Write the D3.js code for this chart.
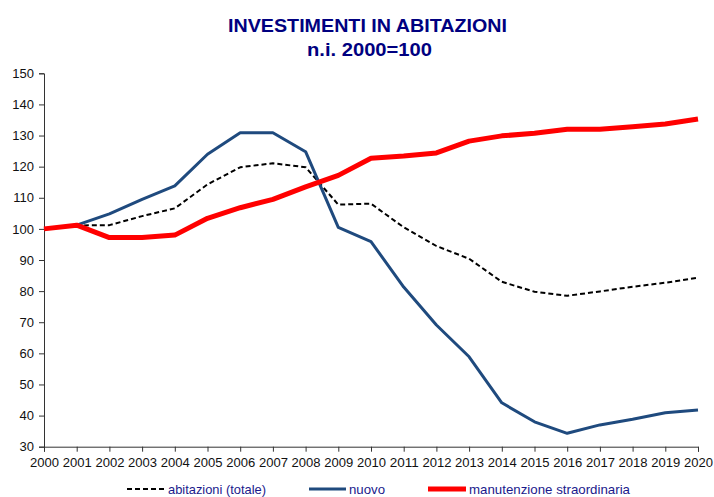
<!DOCTYPE html>
<html>
<head>
<meta charset="utf-8">
<script src="https://cdn.jsdelivr.net/npm/d3@7"></script>
<style>
  body { margin: 0; background: #fff; }
  text { font-family: "Liberation Sans", Arial, sans-serif; }
</style>
</head>
<body>
<div id="chart"></div>
<script>
// Data
const years = d3.range(2000, 2021);
const abitazioni = [100, 101.1, 101.2, 104.1, 106.6, 114.3, 119.8, 121.1, 119.8, 107.8, 108.1, 100.5, 94.5, 90.4, 83.0, 79.8, 78.5, 79.9, 81.4, 82.7, 84.3];
const nuovo = [100, 101.2, 104.8, 109.5, 113.8, 124.0, 130.9, 130.9, 124.8, 100.5, 95.9, 81.3, 69.1, 58.9, 44.1, 38.0, 34.3, 37.0, 38.8, 40.9, 41.8];
const manutenzione = [100, 101.2, 97.2, 97.2, 98.0, 103.4, 106.8, 109.5, 113.5, 117.2, 122.7, 123.4, 124.4, 128.2, 129.9, 130.7, 132.0, 132.0, 132.8, 133.7, 135.3];
const yTicks = [30, 40, 50, 60, 70, 80, 90, 100, 110, 120, 130, 140, 150];

const series = [
  { name: "abitazioni (totale)", values: abitazioni, color: "#000", width: 2, dash: "5,3" },
  { name: "nuovo", values: nuovo, color: "#1f4a7e", width: 3, dash: null },
  { name: "manutenzione straordinaria", values: manutenzione, color: "#ff0000", width: 5, dash: null }
];

const W = 714, H = 497;
const margin = { top: 73.3, right: 16, bottom: 50.3, left: 44 };

const svg = d3.select("#chart")
  .append("svg")
  .attr("width", W)
  .attr("height", H);

const x = d3.scaleLinear()
  .domain([2000, 2020])
  .range([margin.left, W - margin.right]);

const y = d3.scaleLinear()
  .domain([30, 150])
  .range([H - margin.bottom, margin.top]);

// Title
svg.append("text")
  .attr("x", 367.5).attr("y", 32)
  .attr("text-anchor", "middle")
  .attr("font-size", 18).attr("font-weight", "bold")
  .attr("fill", "#000080")
  .attr("textLength", 279).attr("lengthAdjust", "spacingAndGlyphs")
  .text("INVESTIMENTI IN ABITAZIONI");

svg.append("text")
  .attr("x", 369.5).attr("y", 55.5)
  .attr("text-anchor", "middle")
  .attr("font-size", 18).attr("font-weight", "bold")
  .attr("fill", "#000080")
  .attr("textLength", 125).attr("lengthAdjust", "spacingAndGlyphs")
  .text("n.i. 2000=100");

// Y axis
const yAxis = svg.append("g")
  .attr("transform", `translate(${margin.left},0)`)
  .call(d3.axisLeft(y).tickValues(yTicks).tickSize(5).tickPadding(5));

// X axis
const xAxis = svg.append("g")
  .attr("transform", `translate(0,${H - margin.bottom})`)
  .call(d3.axisBottom(x).tickValues(years).tickFormat(d3.format("d")).tickSize(5).tickPadding(6));

[yAxis, xAxis].forEach(g => {
  g.select(".domain").attr("stroke", "#333");
  g.selectAll(".tick line").attr("stroke", "#333");
  g.selectAll(".tick text")
    .attr("font-size", 13)
    .attr("fill", "#111")
    .style("font-family", "'Liberation Sans', Arial, sans-serif");
});
xAxis.selectAll(".tick text").attr("textLength", 29).attr("lengthAdjust", "spacingAndGlyphs");

// Lines
const line = d3.line()
  .x((d, i) => x(years[i]))
  .y(d => y(d));

svg.selectAll("path.series")
  .data(series)
  .enter()
  .append("path")
  .attr("class", "series")
  .attr("fill", "none")
  .attr("stroke", d => d.color)
  .attr("stroke-width", d => d.width)
  .attr("stroke-dasharray", d => d.dash)
  .attr("stroke-linejoin", "round")
  .attr("d", d => line(d.values));

// Legend
const legendItems = [
  { s: series[0], x0: 127, x1: 165, tx: 168, len: 98 },
  { s: series[1], x0: 309, x1: 346, tx: 349, len: 36 },
  { s: series[2], x0: 428, x1: 466, tx: 469, len: 161 }
];
const legend = svg.append("g");
legendItems.forEach(it => {
  legend.append("line")
    .attr("x1", it.x0).attr("x2", it.x1)
    .attr("y1", 489).attr("y2", 489)
    .attr("stroke", it.s.color)
    .attr("stroke-width", it.s.width)
    .attr("stroke-dasharray", it.s.dash);
  legend.append("text")
    .attr("x", it.tx).attr("y", 493.5)
    .attr("font-size", 13)
    .attr("fill", "#1a1a8c")
    .attr("textLength", it.len).attr("lengthAdjust", "spacingAndGlyphs")
    .text(it.s.name);
});
</script>
</body>
</html>
